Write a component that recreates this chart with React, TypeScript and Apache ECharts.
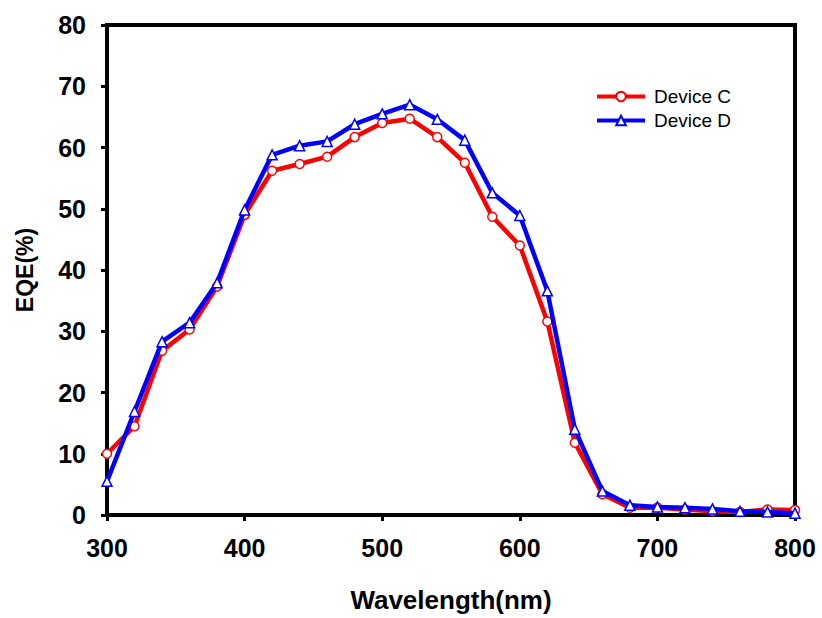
import React, { useEffect, useRef } from "react";
import * as echarts from "echarts";

const wavelengths = [300, 320, 340, 360, 380, 400, 420, 440, 460, 480, 500, 520, 540, 560, 580, 600, 620, 640, 660, 680, 700, 720, 740, 760, 780, 800];
const deviceC = [10.0, 14.5, 26.8, 30.3, 37.3, 49.0, 56.2, 57.3, 58.5, 61.7, 64.0, 64.7, 61.7, 57.5, 48.7, 44.0, 31.6, 11.8, 3.4, 1.2, 1.2, 0.9, 0.6, 0.5, 0.9, 0.8];
const deviceD = [5.5, 16.9, 28.3, 31.4, 37.9, 49.8, 58.8, 60.3, 61.0, 63.8, 65.5, 67.0, 64.6, 61.2, 52.6, 48.9, 36.6, 14.0, 3.9, 1.6, 1.3, 1.2, 1.0, 0.6, 0.5, 0.3];

const FONT = "'Liberation Sans', Arial, sans-serif";

export default function App() {
  const ref = useRef<HTMLDivElement>(null);
  useEffect(() => {
    if (!ref.current) return;
    const chart = echarts.init(ref.current, null, { renderer: "svg" });
    const pair = (ys: number[]) => wavelengths.map((x, i) => [x, ys[i]]);
    chart.setOption({
      animation: false,
      backgroundColor: "#fff",
      grid: { left: 107, right: 27, top: 25, bottom: 102, show: true, borderColor: "#000", borderWidth: 4 },
      legend: {
        left: 595,
        top: 87,
        padding: 0,
        orient: "vertical",
        itemWidth: 48,
        itemHeight: 12,
        itemGap: 5,
        lineStyle: { width: 4 },
        textStyle: { fontFamily: FONT, fontSize: 19, color: "#000", padding: [0, 0, 0, 4] },
        data: [{ name: "Device C" }, { name: "Device D" }],
      },
      xAxis: {
        type: "value",
        min: 300,
        max: 800,
        interval: 100,
        name: "Wavelength(nm)",
        nameLocation: "middle",
        nameGap: 72,
        nameTextStyle: { fontFamily: FONT, fontSize: 26, fontWeight: "bold", color: "#000" },
        axisLine: { lineStyle: { color: "#000", width: 4 } },
        axisTick: { show: true, inside: false, length: 6, lineStyle: { color: "#000", width: 3 } },
        axisLabel: { fontFamily: FONT, fontSize: 25, fontWeight: "bold", color: "#000", margin: 20 },
        splitLine: { show: false },
      },
      yAxis: {
        type: "value",
        min: 0,
        max: 80,
        interval: 10,
        name: "EQE(%)",
        nameLocation: "middle",
        nameGap: 71,
        nameTextStyle: { fontFamily: FONT, fontSize: 23, fontWeight: "bold", color: "#000" },
        axisLine: { lineStyle: { color: "#000", width: 4 } },
        axisTick: { show: true, inside: false, length: 6, lineStyle: { color: "#000", width: 3 } },
        axisLabel: { fontFamily: FONT, fontSize: 25, fontWeight: "bold", color: "#000", margin: 21 },
        splitLine: { show: false },
      },
      series: [
        {
          name: "Device C",
          type: "line",
          data: pair(deviceC),
          symbol: "circle",
          symbolSize: 9,
          color: "#ff0000",
          lineStyle: { color: "#ff0000", width: 4.5 },
          itemStyle: { color: "#fff", borderColor: "#ff0000", borderWidth: 1.5 },
          z: 2,
        },
        {
          name: "Device D",
          type: "line",
          data: pair(deviceD),
          symbol: "triangle",
          symbolSize: 10,
          color: "#0000ff",
          lineStyle: { color: "#0000ff", width: 4.5 },
          itemStyle: { color: "#fff", borderColor: "#0000ff", borderWidth: 1.5 },
          z: 3,
        },
      ],
    });
    return () => chart.dispose();
  }, []);
  return <div ref={ref} style={{ width: 822, height: 618, position: "absolute", left: 0, top: 0 }} />;
}
